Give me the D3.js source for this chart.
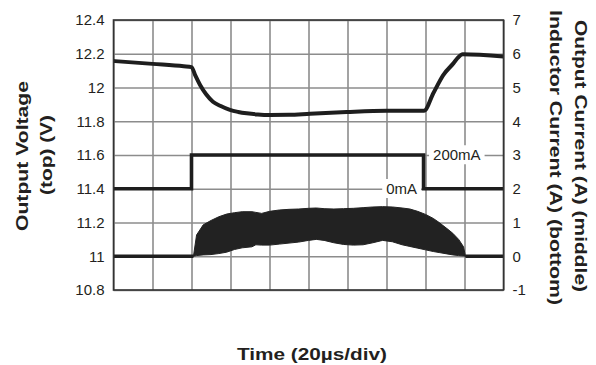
<!DOCTYPE html>
<html>
<head>
<meta charset="utf-8">
<script src="https://cdn.jsdelivr.net/npm/d3@7"></script>
<style>
  html, body { margin: 0; padding: 0; background: #fff; }
  svg { display: block; }
  text { font-family: "Liberation Sans", Arial, sans-serif; fill: #231f20; }
</style>
</head>
<body>
<svg id="chart" width="596" height="365"></svg>
<script>
// ---- axis ticks ----
const voltTicks = [10.8, 11, 11.2, 11.4, 11.6, 11.8, 12, 12.2, 12.4];
const voltTickLabels = ["10.8", "11", "11.2", "11.4", "11.6", "11.8", "12", "12.2", "12.4"];
const ampTicks = [-1, 0, 1, 2, 3, 4, 5, 6, 7];
const ampTickLabels = ["-1", "0", "1", "2", "3", "4", "5", "6", "7"];
const timeDivs = [0, 20, 40, 60, 80, 100, 120, 140, 160, 180, 200]; // µs, 20µs/div

// ---- output voltage (top trace, left axis) ----
const voltTime  = [0, 20, 36, 40, 42, 44.4, 47.5, 51, 55, 59.7, 64, 68.3, 74, 80.2, 90, 100.8, 119.6, 140, 159.2, 164, 169.1, 174.3, 176.5, 179.1, 200];
const voltValue = [12.157, 12.140, 12.126, 12.121, 12.07, 12.015, 11.96, 11.916, 11.89, 11.867, 11.855, 11.847, 11.84, 11.837, 11.838, 11.845, 11.855, 11.862, 11.862, 11.966, 12.074, 12.143, 12.175, 12.197, 12.183];

// ---- output current (middle trace, right axis) ----
const loadTime  = [0, 40, 40, 159, 159, 200];
const loadValue = [2, 2, 3, 3, 2, 2];

// ---- inductor current ripple envelope (bottom trace, right axis) ----
const indTime   = [0, 41, 42.6, 46, 50, 54, 58, 62, 66, 71, 73, 76, 80, 85, 90, 95, 100, 104, 108, 113, 118, 123, 128, 133, 138, 143, 148, 152, 156, 160, 164, 167, 171, 174, 177, 179.5, 180.5, 200];
const indPeak   = [0, 0, 0.63, 0.93, 1.06, 1.17, 1.25, 1.29, 1.32, 1.32, 1.30, 1.27, 1.33, 1.37, 1.39, 1.40, 1.42, 1.43, 1.41, 1.40, 1.41, 1.42, 1.44, 1.46, 1.47, 1.46, 1.43, 1.40, 1.33, 1.24, 1.12, 1.00, 0.82, 0.68, 0.50, 0.28, 0, 0];
const indValley = [0, 0, 0.02, 0.04, 0.05, 0.08, 0.12, 0.20, 0.25, 0.28, 0.34, 0.33, 0.33, 0.36, 0.39, 0.42, 0.47, 0.50, 0.47, 0.40, 0.35, 0.33, 0.34, 0.40, 0.47, 0.43, 0.34, 0.29, 0.24, 0.19, 0.14, 0.11, 0.07, 0.04, 0.02, 0.01, 0, 0];

// ---- level annotations on the load-current trace ----
const levelLabels = ["200mA", "0mA"];
const levelValues = [3, 2];

const svg = d3.select("#chart");
const plot = { left: 113.5, right: 503.5, top: 20, bottom: 290 };

const x  = d3.scaleLinear().domain([0, 200]).range([plot.left, plot.right]);
const yV = d3.scaleLinear().domain([10.8, 12.4]).range([plot.bottom, plot.top]);
const yA = d3.scaleLinear().domain([-1, 7]).range([plot.bottom, plot.top]);

const gridColor = "#8c8c8c";

// vertical grid
svg.append("g")
  .attr("transform", `translate(0,${plot.bottom})`)
  .call(d3.axisBottom(x).tickValues(timeDivs).tickSize(-(plot.bottom - plot.top)).tickFormat(""))
  .call(g => g.select(".domain").remove())
  .call(g => g.selectAll("line").attr("stroke", gridColor).attr("stroke-width", 1.6));

// horizontal grid
svg.append("g")
  .attr("transform", `translate(${plot.left},0)`)
  .call(d3.axisLeft(yV).tickValues(voltTicks).tickSize(-(plot.right - plot.left)).tickFormat(""))
  .call(g => g.select(".domain").remove())
  .call(g => g.selectAll("line").attr("stroke", gridColor).attr("stroke-width", 1.6));

// left tick labels
svg.append("g")
  .attr("transform", `translate(${plot.left},0)`)
  .call(d3.axisLeft(yV).tickValues(voltTicks).tickFormat((d, i) => voltTickLabels[i]).tickSize(0).tickPadding(9))
  .call(g => g.select(".domain").remove())
  .call(g => g.selectAll("text").style("font-size", "15px").attr("fill", "#231f20"));

// right tick labels
svg.append("g")
  .attr("transform", `translate(${plot.right},0)`)
  .call(d3.axisRight(yA).tickValues(ampTicks).tickFormat((d, i) => ampTickLabels[i]).tickSize(0).tickPadding(9))
  .call(g => g.select(".domain").remove())
  .call(g => g.selectAll("text").style("font-size", "15px").attr("fill", "#231f20"));

// level annotations with white backing that interrupts the grid
const stepOff = loadTime[3];
const annot = svg.append("g");
levelLabels.forEach((lab, i) => {
  const isHigh = levelValues[i] === 3;
  const t = annot.append("text")
    .attr("x", isHigh ? x(stepOff) + 9.5 : x(stepOff) - 6.5)
    .attr("y", yA(levelValues[i]))
    .attr("dy", "0.35em")
    .attr("text-anchor", isHigh ? "start" : "end")
    .style("font-size", "15px")
    .text(lab);
  const bb = t.node().getBBox();
  annot.insert("rect", () => t.node())
    .attr("x", bb.x - 4).attr("y", bb.y - 1)
    .attr("width", bb.width + 8).attr("height", bb.height + 2)
    .attr("fill", "#fff");
});

const traceColor = "#1e1e1e";

// output voltage
svg.append("path")
  .attr("d", d3.line().curve(d3.curveMonotoneX).x((d, i) => x(voltTime[i])).y(d => yV(d))(voltValue))
  .attr("fill", "none").attr("stroke", traceColor).attr("stroke-width", 4)
  .attr("stroke-linejoin", "round").attr("stroke-linecap", "butt");

// output current
svg.append("path")
  .attr("d", d3.line().x((d, i) => x(loadTime[i])).y(d => yA(d))(loadValue))
  .attr("fill", "none").attr("stroke", traceColor).attr("stroke-width", 3.6)
  .attr("stroke-linejoin", "miter");

// inductor current ripple band
svg.append("path")
  .attr("d", d3.area()
    .x((d, i) => x(indTime[i]))
    .y0((d, i) => yA(indValley[i]))
    .y1(d => yA(d))(indPeak))
  .attr("fill", "#222").attr("stroke", "#222").attr("stroke-width", 1)
  .attr("stroke-linejoin", "round");

// inductor current flat (zero) segments
svg.append("path")
  .attr("d", d3.line()
    .defined((d, i) => indPeak[i] === indValley[i])
    .x((d, i) => x(indTime[i])).y(d => yA(d))(indValley))
  .attr("fill", "none").attr("stroke", traceColor).attr("stroke-width", 3.6);

// plot frame
svg.append("rect")
  .attr("x", plot.left).attr("y", plot.top)
  .attr("width", plot.right - plot.left).attr("height", plot.bottom - plot.top)
  .attr("fill", "none").attr("stroke", "#333").attr("stroke-width", 1.6);

// axis titles
const titleStyle = sel => sel.style("font-size", "16px").style("font-weight", "bold")
  .attr("text-anchor", "middle").attr("lengthAdjust", "spacingAndGlyphs");

svg.append("text").call(titleStyle)
  .attr("transform", "translate(27.5,156) rotate(-90)")
  .attr("textLength", 150).text("Output Voltage");
svg.append("text").call(titleStyle)
  .attr("transform", "translate(52,155) rotate(-90)")
  .attr("textLength", 80).text("(top) (V)");

svg.append("text").call(titleStyle)
  .attr("transform", "translate(575,156) rotate(90)")
  .attr("textLength", 272).text("Output Current (A) (middle)");
svg.append("text").call(titleStyle)
  .attr("transform", "translate(550,157.5) rotate(90)")
  .attr("textLength", 295).text("Inductor Current (A) (bottom)");

svg.append("text").call(titleStyle)
  .attr("x", 312).attr("y", 360)
  .attr("textLength", 150).text("Time (20µs/div)");
</script>
</body>
</html>
